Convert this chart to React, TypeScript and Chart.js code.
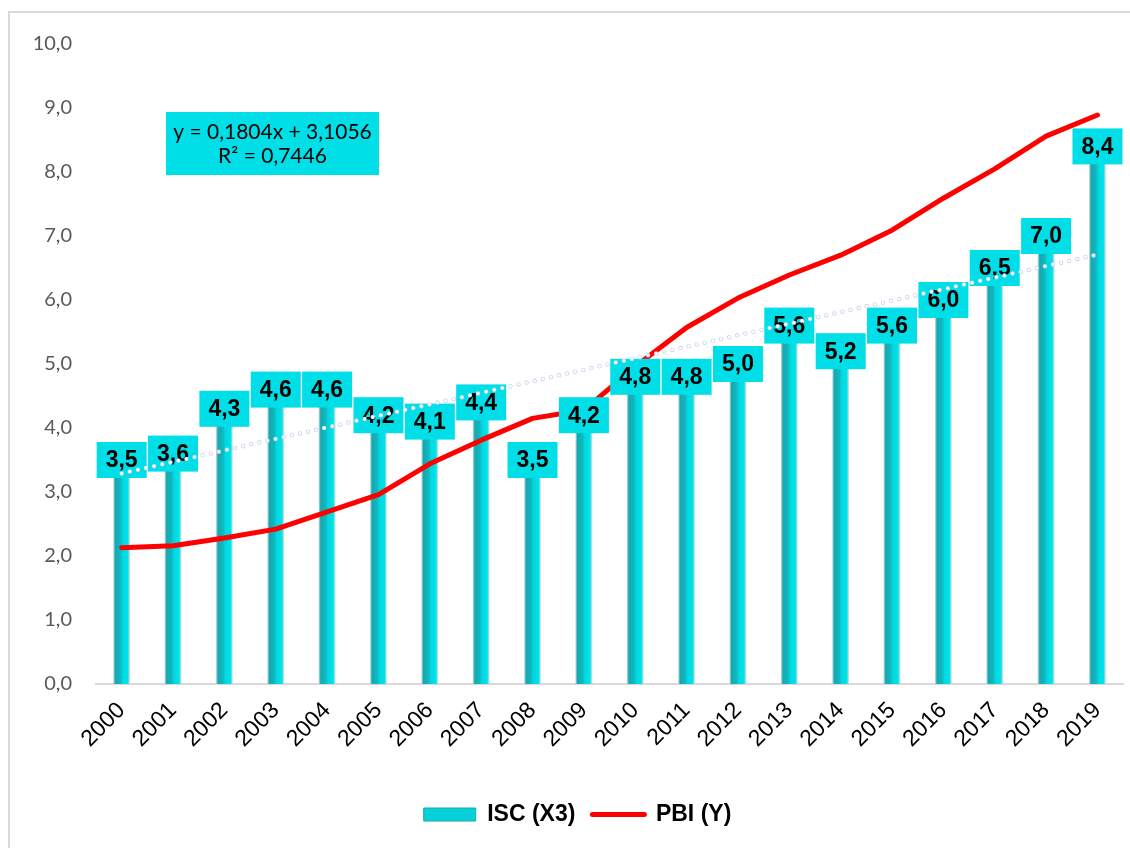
import { useEffect, useRef } from 'react';
import { Chart, registerables } from 'chart.js';

Chart.register(...registerables);

const years = ['2000', '2001', '2002', '2003', '2004', '2005', '2006', '2007', '2008', '2009', '2010', '2011', '2012', '2013', '2014', '2015', '2016', '2017', '2018', '2019'];
const iscValues = [3.5, 3.6, 4.3, 4.6, 4.6, 4.2, 4.1, 4.4, 3.5, 4.2, 4.8, 4.8, 5.0, 5.6, 5.2, 5.6, 6.0, 6.5, 7.0, 8.4];
const pbiValues = [2.13, 2.16, 2.28, 2.42, 2.69, 2.96, 3.44, 3.81, 4.15, 4.28, 4.96, 5.57, 6.03, 6.39, 6.70, 7.09, 7.59, 8.05, 8.56, 8.89];
const trendValues: (number | null)[] = [3.29, null, null, null, null, null, null, null, null, null, null, null, null, null, null, null, null, null, null, 6.71];
const yMin = 0;
const yMax = 10;
const yStep = 1;
const seriesNames = ['ISC (X3)', 'PBI (Y)'];
const equationLines = ['y = 0,1804x + 3,1056', 'R² = 0,7446'];

const CYAN = '#00dfe8';
const ARIAL = '"Liberation Sans", Arial, sans-serif';
const fmt = (v: number) => v.toFixed(1).replace('.', ',');

const barGradient = (c: any) => {
  const chart = c.chart;
  const xs = chart.scales && chart.scales.x;
  if (!xs || c.type !== 'data') return '#10c8d0';
  const x = xs.getPixelForValue(c.dataIndex);
  const g = chart.ctx.createLinearGradient(x - 8, 0, x + 8, 0);
  g.addColorStop(0, '#a9d4d6');
  g.addColorStop(0.1, '#14a8b0');
  g.addColorStop(0.42, '#10b8c0');
  g.addColorStop(0.55, '#00d8e0');
  g.addColorStop(0.88, '#00e2ea');
  g.addColorStop(1, '#c6dfe0');
  return g;
};

const labelPlugin = {
  id: 'barLabels',
  afterDatasetDraw(chart: any, args: any) {
    if (args.index !== 1) return;
    const meta = chart.getDatasetMeta(0);
    const ctx = chart.ctx;
    ctx.save();
    ctx.font = 'bold 23px ' + ARIAL;
    ctx.textAlign = 'center';
    ctx.textBaseline = 'middle';
    meta.data.forEach((el: any, i: number) => {
      const { x, y } = el.getProps(['x', 'y'], true);
      ctx.fillStyle = CYAN;
      ctx.fillRect(x - 25, y - 18, 50, 36);
      ctx.fillStyle = '#000';
      ctx.fillText(fmt(iscValues[i]), x, y + 1);
    });
    ctx.restore();
  },
  afterDraw(chart: any) {
    const ctx = chart.ctx;
    const a = chart.chartArea;
    const left = a.left + 70;
    const top = a.top + 68;
    const w = 213;
    const h = 63;
    ctx.save();
    ctx.fillStyle = CYAN;
    ctx.fillRect(left, top, w, h);
    ctx.fillStyle = '#000';
    ctx.font = '21px Lato, "Noto Sans", sans-serif';
    ctx.textAlign = 'center';
    ctx.textBaseline = 'middle';
    ctx.fillText(equationLines[0], left + w / 2, top + 20);
    ctx.fillText(equationLines[1], left + w / 2, top + 44);
    ctx.restore();
  },
};

export default function App() {
  const ref = useRef<HTMLCanvasElement | null>(null);
  useEffect(() => {
    if (!ref.current) return;
    const chart = new Chart(ref.current, {
      type: 'bar',
      data: {
        labels: years,
        datasets: [
          {
            type: 'bar',
            label: seriesNames[0],
            data: iscValues,
            backgroundColor: barGradient,
            borderWidth: 0,
            barThickness: 16,
            order: 4,
          },
          {
            type: 'line',
            label: seriesNames[1],
            data: pbiValues,
            borderColor: '#ff0000',
            backgroundColor: '#ff0000',
            borderWidth: 5,
            borderCapStyle: 'round',
            borderJoinStyle: 'round',
            pointRadius: 0,
            tension: 0,
            order: 3,
          },
          {
            type: 'line',
            label: 'trendOutline',
            data: trendValues,
            spanGaps: true,
            borderColor: '#c8d6ea',
            borderWidth: 4.5,
            borderDash: [0, 8.3],
            borderCapStyle: 'round',
            pointRadius: 0,
            order: 2,
          },
          {
            type: 'line',
            label: 'trendDots',
            data: trendValues,
            spanGaps: true,
            borderColor: '#ffffff',
            borderWidth: 2.8,
            borderDash: [0, 8.3],
            borderCapStyle: 'round',
            pointRadius: 0,
            order: 1,
          },
        ],
      } as any,
      options: {
        responsive: false,
        animation: false,
        devicePixelRatio: 1,
        layout: { padding: { top: 31, right: 1, bottom: 12, left: 16 } },
        plugins: {
          tooltip: { enabled: false },
          legend: {
            position: 'bottom',
            labels: {
              usePointStyle: true,
              pointStyleWidth: 52,
              boxWidth: 52,
              boxHeight: 13,
              padding: 17,
              color: '#000',
              font: { family: ARIAL, size: 23, weight: 'bold' },
              generateLabels: () => [
                { text: seriesNames[0], fillStyle: '#06d0d8', strokeStyle: '#17a8b0', lineWidth: 1, pointStyle: 'rect', datasetIndex: 0, hidden: false },
                { text: seriesNames[1], fillStyle: '#ff0000', strokeStyle: '#ff0000', lineWidth: 5, lineCap: 'round', pointStyle: 'line', datasetIndex: 1, hidden: false },
              ],
            },
          },
        },
        scales: {
          x: {
            type: 'category',
            offset: true,
            grid: { display: false, drawTicks: false },
            border: { display: true, color: '#d9d9d9', width: 2 },
            ticks: {
              autoSkip: false,
              minRotation: 45,
              maxRotation: 45,
              padding: 13,
              color: '#000',
              font: { family: ARIAL, size: 23 },
            },
            afterFit: (s: any) => { s.height = 102; },
          },
          y: {
            min: yMin,
            max: yMax,
            grid: { display: false, drawTicks: false },
            border: { display: false },
            ticks: {
              stepSize: yStep,
              padding: 24,
              color: '#595959',
              font: { family: 'Lato, "Noto Sans", sans-serif', size: 20 },
              callback: (v: any) => fmt(Number(v)),
            },
            afterFit: (s: any) => {
              s.width = 70;
              s.paddingTop = 0;
              s.paddingBottom = 0;
            },
          },
        },
      } as any,
      plugins: [labelPlugin],
    });
    return () => chart.destroy();
  }, []);

  return (
    <div
      style={{
        position: 'absolute',
        left: 8,
        top: 11,
        width: 1120,
        height: 835,
        borderLeft: '2px solid #d9d9d9',
        borderTop: '2px solid #d9d9d9',
        background: '#fff',
      }}
    >
      <canvas ref={ref} width={1120} height={835} style={{ display: 'block', width: 1120, height: 835 }} />
    </div>
  );
}
